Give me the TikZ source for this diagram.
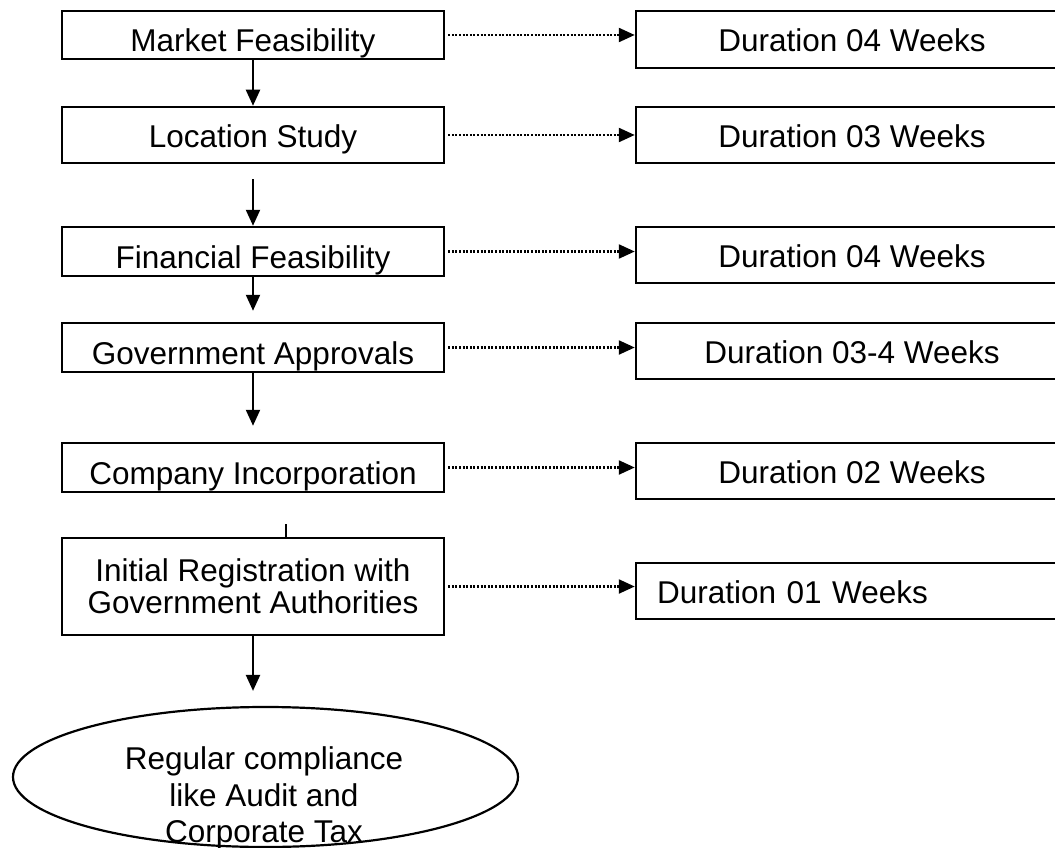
\documentclass[tikz,border=0pt]{standalone}
\usepackage{fontspec}
\setmainfont{Liberation Sans}
\usetikzlibrary{arrows.meta,shapes.geometric}
\tikzset{
  box/.style={draw, line width=2.5pt, rectangle, inner sep=0pt, font=\fontsize{31.5}{31.7}\selectfont},
  lbox/.style={box, minimum width=382pt, text height=33pt, text depth=0pt},
  dbox/.style={box, minimum width=432pt, minimum height=56pt, text height=24.6pt, text depth=0pt},
  arr/.style={line width=2.2pt, -{Triangle[length=16pt,width=14pt]}},
  plain/.style={line width=2.2pt},
  dotarr/.style={line width=2.4pt, dash pattern=on 2pt off 1.6pt, shorten <=3pt, -{Triangle[length=16pt,width=14pt]}}
}
\begin{document}
\begin{tikzpicture}[x=1pt,y=-1pt]
\useasboundingbox (0,0) rectangle (1055,848);
% left column
\node[lbox, minimum height=48pt] (mf) at (253,35) {Market Feasibility};
\node[lbox, minimum height=56pt, text height=26pt] (ls) at (253,135) {Location Study};
\node[lbox, minimum height=49pt] (ff) at (253,251.5) {Financial Feasibility};
\node[lbox, minimum height=49pt] (ga) at (253,347.5) {Government Approvals};
\node[lbox, minimum height=49pt] (ci) at (253,467.5) {Company Incorporation};
\node[box, minimum width=382pt, minimum height=97pt, align=center] (ir) at (253,586.5) {Initial Registration with\\Government Authorities};
% right column
\node[dbox, minimum height=57pt] (d1) at (852,39.5) {Duration 04 Weeks};
\node[dbox] (d2) at (852,135) {Duration 03 Weeks};
\node[dbox] (d3) at (852,255) {Duration 04 Weeks};
\node[dbox] (d4) at (852,351) {Duration 03-4 Weeks};
\node[dbox] (d5) at (852,471) {Duration 02 Weeks};
\node[dbox, align=left, text width=390pt, inner xsep=21pt] (d6) at (852,591) {Duration 01 Weeks};
% ellipse
\node[draw, ellipse, line width=2.2pt, minimum width=505pt, minimum height=140pt, inner sep=0pt] (rc) at (265.5,777) {};
\node[font=\fontsize{31.5}{36.5}\selectfont, align=center] (rct) at (264,798.3) {Regular compliance\\like Audit and\\Corporate Tax};
% vertical connectors
\draw[arr] (mf) -- (ls);
\draw[arr, shorten <=15pt] (ls) -- (ff);
\draw[arr, shorten >=11pt] (ff) -- (ga);
\draw[arr, shorten >=16pt] (ga) -- (ci);
\draw[plain, shorten <=31pt] ([xshift=33pt]ci.south) -- ([xshift=33pt]ir.north);
\draw[arr, shorten >=15pt] (ir.south) -- (ir.south |- rc.north);
% dotted connectors
\draw[dotarr] (mf.east) -- (mf.east -| d1.west);
\draw[dotarr] (ls.east) -- (ls.east -| d2.west);
\draw[dotarr] (ff.east) -- (ff.east -| d3.west);
\draw[dotarr] (ga.east) -- (ga.east -| d4.west);
\draw[dotarr] (ci.east) -- (ci.east -| d5.west);
\draw[dotarr] (ir.east) -- (ir.east -| d6.west);
\end{tikzpicture}
\end{document}
